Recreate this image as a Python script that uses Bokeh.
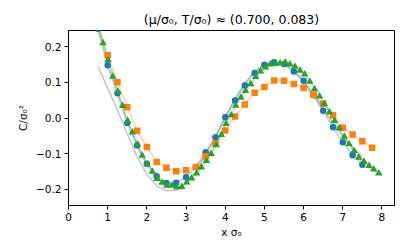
from bokeh.plotting import figure
from bokeh.models import Range1d, FixedTicker
from bokeh.embed import file_html
from bokeh.resources import INLINE

# ---- data ----
blue_x = [0.75, 1.0, 1.25, 1.5, 1.75, 2.0, 2.25, 2.5, 2.75, 3.0, 3.25, 3.5, 3.75, 4.0,
          4.25, 4.5, 4.75, 5.0, 5.25, 5.5, 5.75, 6.0, 6.25, 6.5, 6.75, 7.0, 7.25, 7.5]
blue_y = [0.25, 0.148, 0.069, -0.014, -0.077, -0.128, -0.163, -0.182, -0.181, -0.166,
          -0.137, -0.096, -0.054, 0.002, 0.049, 0.091, 0.126, 0.149, 0.156, 0.151,
          0.130, 0.104, 0.064, 0.020, -0.026, -0.068, -0.104, -0.131]

orange_x = [0.75, 1.0, 1.25, 1.5, 1.75, 2.0, 2.25, 2.5, 2.75, 3.0, 3.25, 3.5, 3.75, 4.0,
            4.25, 4.5, 4.75, 5.0, 5.25, 5.5, 5.75, 6.0, 6.25, 6.5, 6.75, 7.0, 7.25, 7.5, 7.75]
orange_y = [0.26, 0.176, 0.100, 0.030, -0.036, -0.081, -0.123, -0.139, -0.149, -0.146,
            -0.137, -0.107, -0.071, -0.035, 0.004, 0.038, 0.071, 0.087, 0.105, 0.104,
            0.095, 0.085, 0.065, 0.040, 0.008, -0.027, -0.046, -0.065, -0.083]

green_x = [0.75, 0.88, 1.01, 1.13, 1.26, 1.38, 1.51, 1.63, 1.76, 1.88, 2.01, 2.14, 2.26,
           2.39, 2.51, 2.64, 2.76, 2.89, 3.02, 3.14, 3.27, 3.39, 3.52, 3.64, 3.77, 3.90,
           4.02, 4.15, 4.27, 4.40, 4.52, 4.65, 4.78, 4.90, 5.03, 5.15, 5.28, 5.40, 5.53,
           5.65, 5.78, 5.91, 6.03, 6.16, 6.28, 6.41, 6.53, 6.66, 6.79, 6.91, 7.04, 7.16,
           7.29, 7.41, 7.54, 7.67, 7.79, 7.92]
green_y = [0.26, 0.210, 0.162, 0.116, 0.074, 0.034, -0.008, -0.040, -0.074, -0.105,
           -0.130, -0.150, -0.170, -0.181, -0.189, -0.189, -0.194, -0.193, -0.180, -0.169,
           -0.155, -0.138, -0.120, -0.100, -0.076, -0.047, -0.016, 0.008, 0.035, 0.057,
           0.076, 0.095, 0.115, 0.131, 0.142, 0.150, 0.152, 0.153, 0.156, 0.150, 0.144,
           0.133, 0.122, 0.102, 0.081, 0.061, 0.040, 0.016, -0.008, -0.029, -0.052, -0.073,
           -0.092, -0.111, -0.122, -0.134, -0.144, -0.155]

gray_x = [0.75, 1.0, 1.25, 1.5, 1.75, 2.0, 2.25, 2.5, 2.75, 3.0, 3.25, 3.5, 3.75, 4.0,
          4.25, 4.5, 4.75, 5.0, 5.25, 5.5, 5.75, 6.0, 6.25, 6.5, 6.75, 7.0, 7.25, 7.5]
gray_y = [0.146, 0.083, 0.022, -0.045, -0.108, -0.158, -0.190, -0.204, -0.202, -0.182,
          -0.150, -0.103, -0.052, 0.003, 0.055, 0.098, 0.131, 0.150, 0.157, 0.151,
          0.133, 0.103, 0.066, 0.026, -0.014, -0.052, -0.083, -0.107]

x_ticks = [0, 1, 2, 3, 4, 5, 6, 7, 8]
y_ticks = [-0.2, -0.1, 0.0, 0.1, 0.2]
y_tick_labels = {-0.2: "\u22120.2", -0.1: "\u22120.1", 0.0: "0.0", 0.1: "0.1", 0.2: "0.2"}

FONT = "DejaVu Sans"
BLUE, ORANGE, GREEN = "#1f77b4", "#ff7f0e", "#2ca02c"

p = figure(width=399, height=244, output_backend="svg", toolbar_location=None,
           x_range=Range1d(0, 8.32), y_range=Range1d(-0.245, 0.245),
           min_border_left=68, min_border_right=5, min_border_top=30, min_border_bottom=39,
           title="(\u03bc/\u03c3\u2080, T/\u03c3\u2080) \u2248 (0.700, 0.083)")

p.title.align = "center"
p.title.text_font = FONT
p.title.text_font_size = "12.5px"
p.title.text_font_style = "normal"
p.title.text_color = "black"
p.title.offset = 0
p.title.standoff = 7

p.xgrid.visible = False
p.ygrid.visible = False
p.outline_line_color = "black"
p.outline_line_width = 1
p.background_fill_color = "white"
p.border_fill_color = "white"

p.xaxis.ticker = FixedTicker(ticks=x_ticks)
p.yaxis.ticker = FixedTicker(ticks=y_ticks)
p.yaxis.major_label_overrides = y_tick_labels
for ax in (p.xaxis, p.yaxis):
    ax.minor_tick_line_color = None
    ax.major_tick_out = 4
    ax.major_tick_in = 0
    ax.major_label_text_font = FONT
    ax.major_label_text_font_size = "10.5px"
    ax.major_label_text_color = "black"
    ax.axis_label_text_font = FONT
    ax.axis_label_text_font_size = "10.5px"
    ax.axis_label_text_font_style = "normal"
    ax.axis_label_text_color = "black"
    ax.axis_line_color = "black"
    ax.major_tick_line_color = "black"
    ax.major_label_standoff = 3
p.xaxis.axis_label = "x \u03c3\u2080"
p.yaxis.axis_label = "C/\u03c3\u2080\u00b2"
p.xaxis.axis_label_standoff = 2
p.yaxis.axis_label_standoff = 4

# theory curve
p.line(gray_x, gray_y, line_color="#a0a0a0", line_alpha=0.6, line_width=1.5)

# data series: faint connecting line + markers
p.line(blue_x, blue_y, line_color=BLUE, line_alpha=0.3, line_width=2)
p.line(orange_x, orange_y, line_color=ORANGE, line_alpha=0.3, line_width=2)
p.line(green_x, green_y, line_color=GREEN, line_alpha=0.3, line_width=2)
p.scatter(blue_x, blue_y, marker="circle", size=6.5, fill_color=BLUE, line_color=None)
p.scatter(orange_x, orange_y, marker="square", size=6.5, fill_color=ORANGE, line_color=None)
p.scatter(green_x, green_y, marker="triangle", size=7.5, fill_color=GREEN, line_color=None)

open("out.html", "w").write(file_html(p, INLINE))
